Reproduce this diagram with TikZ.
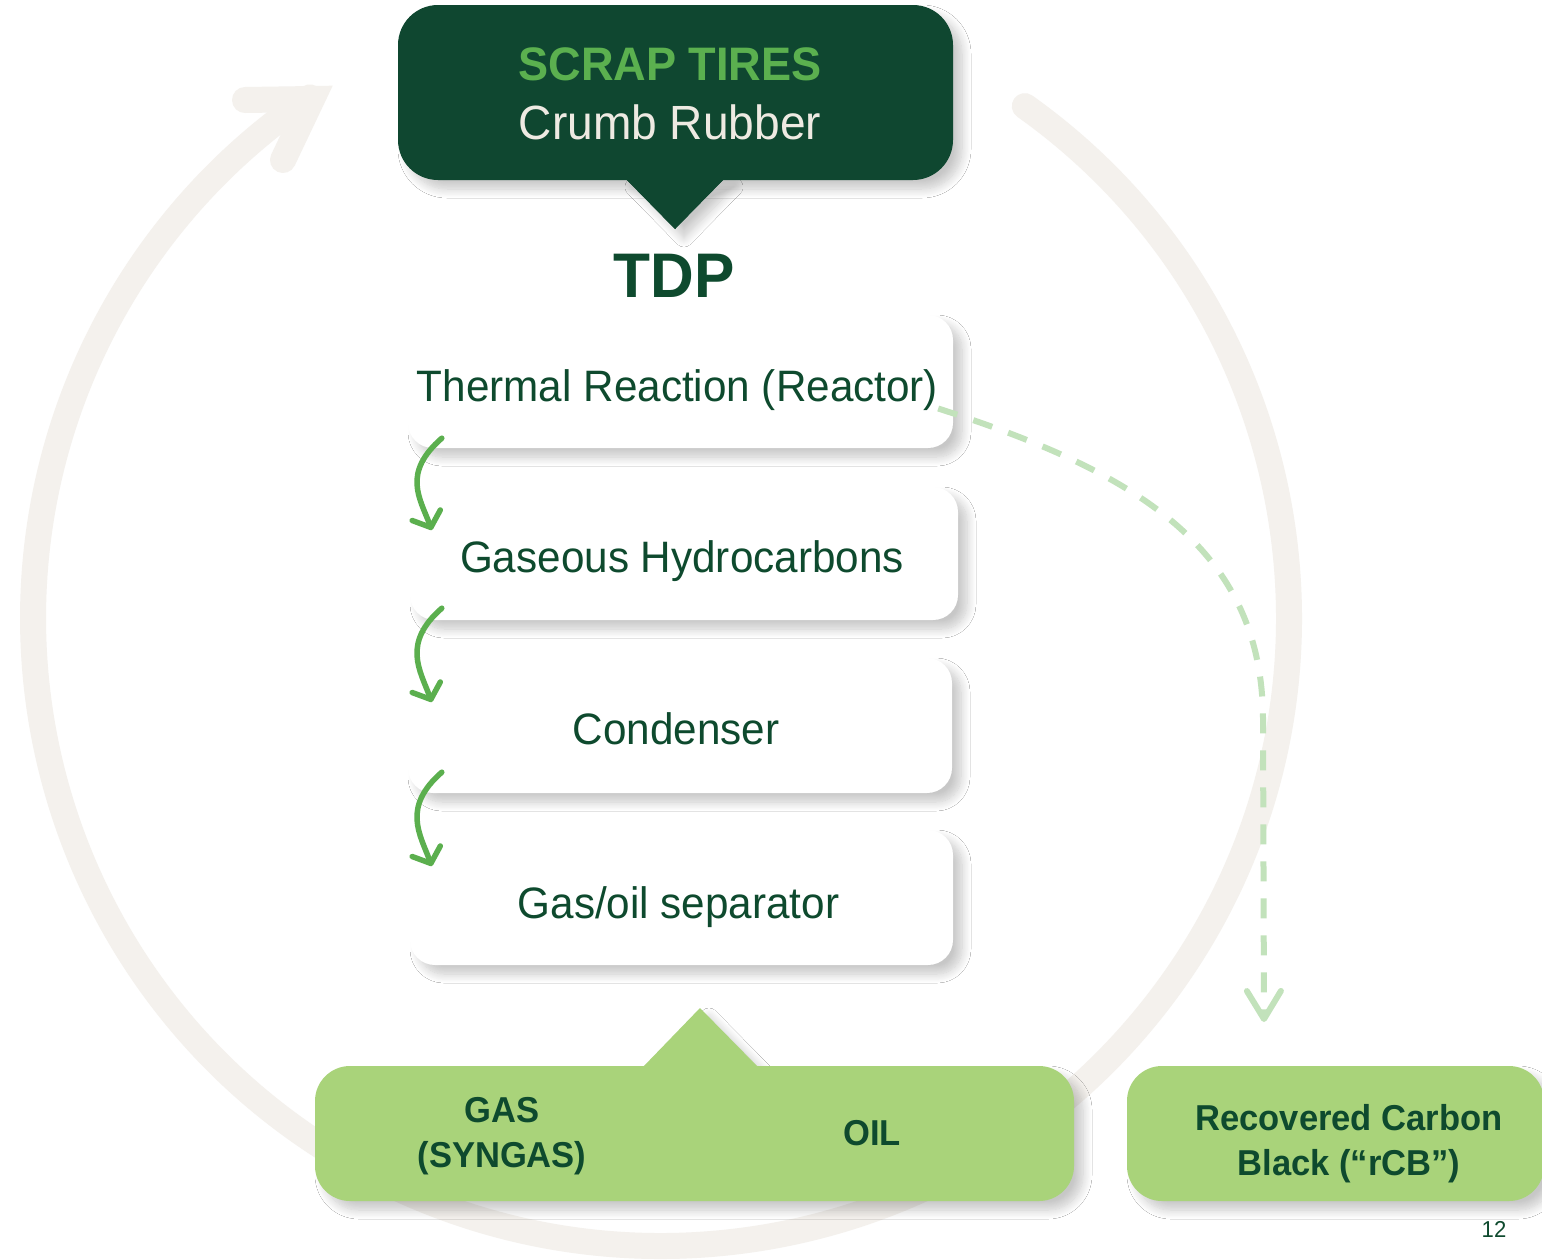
\documentclass[tikz,border=0pt]{standalone}
\usepackage{fontspec}
\setmainfont{Liberation Sans}[FakeStretch=0.96]
\usetikzlibrary{shadows.blur,arrows.meta,calc}
\definecolor{dkgreen}{HTML}{0F4730}
\definecolor{txtgreen}{HTML}{0E4A2E}
\definecolor{ltgreen}{HTML}{5BB04F}
\definecolor{arrowgreen}{HTML}{5BAF4E}
\definecolor{dashgreen}{HTML}{C2E2BB}
\definecolor{boxgreen}{HTML}{A9D37A}
\definecolor{ringgray}{HTML}{F4F1ED}
\definecolor{cream}{HTML}{EEEAE2}
\tikzset{
  softshadow/.style={blur shadow={shadow xshift=9pt, shadow yshift=-9pt, shadow blur radius=9pt, shadow blur steps=12, shadow opacity=22}},
  ring/.style={draw=ringgray, line width=26pt, line cap=round},
  stepbox/.style={fill=white, rounded corners=25pt, inner sep=0pt, softshadow},
  steptext/.style={text=txtgreen, anchor=base, inner sep=0pt, font=\fontsize{44}{52}\selectfont},
  boldtext/.style={text=txtgreen, inner sep=0pt, align=center, font=\fontsize{36}{45}\selectfont\bfseries},
  flowarrow/.style={draw=arrowgreen, line width=5.5pt, line cap=round, -{Straight Barb[length=13pt,width=30pt,round]}},
  dasharrow/.style={draw=dashgreen, line width=6pt, dash pattern=on 20pt off 17pt, -{Straight Barb[length=28pt,width=34pt,round]}},
}
\begin{document}
\begin{tikzpicture}[x=1pt,y=-1pt]
\useasboundingbox (0,0) rectangle (1542,1259);
\fill[white] (0,0) rectangle (1542,1259);
% recycling ring
\draw[ring] (661,618) ++(-54.6:628) arc[start angle=-54.6, end angle=236, radius=628];
\draw[ring, line join=miter] (245,100) -- (312,99) -- (283,160);
% source box with pointer
\fill[dkgreen, softshadow] (625,178) -- (675,229) -- (725,178) -- cycle;
\node[fill=dkgreen, rounded corners=40pt, minimum width=555pt, minimum height=175pt, inner sep=0pt, softshadow] (src) at (675.5,92.5) {};
\fill[dkgreen] (625,178) -- (675,229) -- (725,178) -- cycle;
\node[text=ltgreen, anchor=base, inner sep=0pt, font=\fontsize{47}{56}\selectfont\bfseries] (srct) at (670,80) {SCRAP TIRES};
\node[text=cream, anchor=base, inner sep=0pt, font=\fontsize{48}{56}\selectfont] (srcs) at (670,139) {Crumb Rubber};
\node[text=txtgreen, anchor=base, inner sep=0pt, font=\fontsize{63}{70}\selectfont\bfseries] (tdp) at (674,297) {TDP};
% process steps
\node[stepbox, minimum width=545pt, minimum height=133pt] (b1) at (680.5,381.5) {};
\node[stepbox, minimum width=548pt, minimum height=133pt] (b2) at (684,553.5) {};
\node[stepbox, minimum width=544pt, minimum height=135pt] (b3) at (680,725.5) {};
\node[stepbox, minimum width=543pt, minimum height=135pt] (b4) at (681.5,897.5) {};
\node[steptext] (l1) at (677.5,401) {Thermal Reaction (Reactor)};
\node[steptext] (l2) at (682,572) {Gaseous Hydrocarbons};
\node[steptext] (l3) at (676,744) {Condenser};
\node[steptext] (l4) at (678.5,918) {Gas/oil separator};
% flow arrows
\draw[flowarrow] ([shift={(34,-10)}]b1.south west) .. controls +(-40,35) and +(-12,-32) .. ([shift={(22,-23.5)}]b2.west);
\draw[flowarrow] ([shift={(32,-12)}]b2.south west) .. controls +(-40,35) and +(-12,-32) .. ([shift={(24,-23.5)}]b3.west);
\draw[flowarrow] ([shift={(34,-21)}]b3.south west) .. controls +(-40,35) and +(-12,-32) .. ([shift={(22,-31.5)}]b4.west);
% outputs
\fill[boxgreen, softshadow] (642,1068) -- (700,1008) -- (759,1068) -- cycle;
\node[fill=boxgreen, rounded corners=35pt, minimum width=759pt, minimum height=135pt, inner sep=0pt, softshadow] (out) at (694.5,1133.5) {};
\node[fill=boxgreen, rounded corners=35pt, minimum width=417pt, minimum height=135pt, inner sep=0pt, softshadow] (rcb) at (1335.5,1133.5) {};
\node[boldtext] (gas) at (502,1136.5) {GAS\\(SYNGAS)};
\node[boldtext, anchor=base] (oil) at (872,1145) {OIL};
\node[boldtext] (rcbt) at (1349,1144) {Recovered Carbon\\Black (“rCB”)};
% carbon black path
\coordinate (rcbtip) at (1264,1022);
\draw[dasharrow] ([shift={(-15,27)}]b1.east) .. controls (1130,470) and (1263,545) .. (1263,720) -- (rcbtip);
% page number
\node[text=txtgreen, anchor=base, inner sep=0pt, font=\fontsize{23}{26}\selectfont] (pg) at (1494,1237) {12};
\end{tikzpicture}
\end{document}
